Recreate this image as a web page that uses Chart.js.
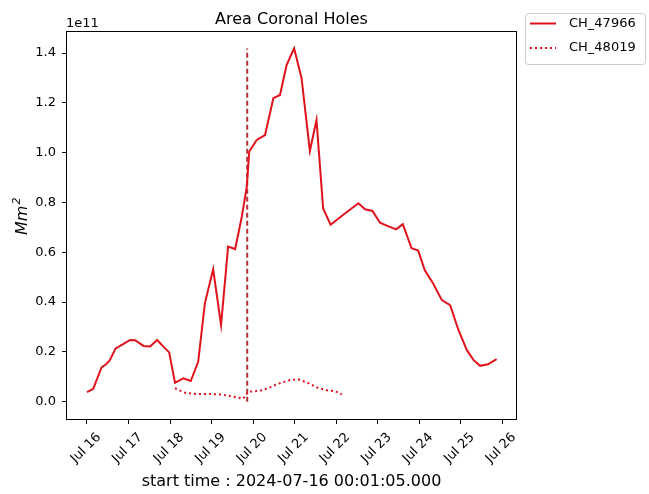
<!DOCTYPE html>
<html>
<head>
<meta charset="utf-8">
<script src="https://cdn.jsdelivr.net/npm/chart.js@4.4.1/dist/chart.umd.min.js"></script>
<style>
  html, body { margin: 0; padding: 0; background: #fff; }
</style>
</head>
<body>
<canvas id="area-chart" width="649" height="494"></canvas>
<script>
// days since 2024-07-16 00:01:05, area in units of 1e11 Mm^2
var ch47966Days = [0.00, 0.15, 0.35, 0.46, 0.55, 0.69, 0.87, 1.04, 1.16, 1.36, 1.52, 1.69, 1.84, 1.98,
    2.12, 2.32, 2.50, 2.68, 2.84, 3.04, 3.23, 3.40, 3.57, 3.73, 3.85, 3.91, 4.09, 4.29, 4.49, 4.65,
    4.81, 4.99, 5.17, 5.37, 5.53, 5.69, 5.87, 6.20, 6.54, 6.70, 6.88, 7.06, 7.25, 7.45, 7.61, 7.82,
    7.98, 8.14, 8.34, 8.55, 8.75, 8.95, 9.15, 9.31, 9.47, 9.66, 9.87];
var ch47966Area = [0.038, 0.052, 0.138, 0.150, 0.167, 0.214, 0.231, 0.248, 0.247, 0.224, 0.222, 0.248, 0.221, 0.198,
    0.076, 0.094, 0.083, 0.161, 0.395, 0.532, 0.308, 0.623, 0.613, 0.743, 0.864, 1.005, 1.051, 1.071, 1.219, 1.232,
    1.352, 1.419, 1.299, 1.007, 1.131, 0.776, 0.711, 0.754, 0.797, 0.773, 0.766, 0.719, 0.705, 0.692, 0.713, 0.616,
    0.607, 0.528, 0.475, 0.408, 0.388, 0.288, 0.208, 0.168, 0.144, 0.150, 0.171];

var ch48019Days = [2.12, 2.36, 2.64, 2.96, 3.28, 3.59, 3.76, 3.89, 4.17, 4.37, 4.57, 4.89, 5.09, 5.33, 5.57, 5.81, 5.98, 6.14];
var ch48019Area = [0.054, 0.036, 0.031, 0.031, 0.028, 0.018, 0.012, 0.040, 0.044, 0.054, 0.070, 0.087, 0.090, 0.075, 0.055, 0.045, 0.042, 0.030];

// reference time marker
var markerDay = 3.86;
var markerRange = [0, 1.419];

var seriesNames = ['CH_47966', 'CH_48019'];
var xTickDays = [0, 1, 2, 3, 4, 5, 6, 7, 8, 9, 10];
var xTickLabels = ['Jul 16', 'Jul 17', 'Jul 18', 'Jul 19', 'Jul 20', 'Jul 21', 'Jul 22', 'Jul 23', 'Jul 24', 'Jul 25', 'Jul 26'];
var yTickValues = [0.0, 0.2, 0.4, 0.6, 0.8, 1.0, 1.2, 1.4];

var RED = '#e0121c';
var FONT = "'DejaVu Sans', sans-serif";

function toPoints(xs, ys) {
    return xs.map(function (x, i) { return { x: x, y: ys[i] }; });
}

// frame, titles, rotated x labels and the outside legend
var decorPlugin = {
    id: 'decor',
    afterDraw: function (chart) {
        var ctx = chart.ctx;
        var a = chart.chartArea;
        var xs = chart.scales.x;
        ctx.save();

        ctx.strokeStyle = '#000';
        ctx.lineWidth = 1;
        ctx.strokeRect(Math.round(a.left) + 0.5, Math.round(a.top) + 0.5,
            Math.round(a.right - a.left) - 1, Math.round(a.bottom - a.top) - 1);

        ctx.fillStyle = '#000';
        ctx.textAlign = 'center';
        ctx.textBaseline = 'alphabetic';
        ctx.font = '16px ' + FONT;
        ctx.fillText('Area Coronal Holes', (a.left + a.right) / 2, 23.5);
        ctx.fillText('start time : 2024-07-16 00:01:05.000', (a.left + a.right) / 2, 486);

        ctx.textAlign = 'left';
        ctx.font = '13px ' + FONT;
        ctx.fillText('1e11', a.left, 26.5);

        // y axis label Mm^2
        ctx.save();
        ctx.translate(26.5, 235);
        ctx.rotate(-Math.PI / 2);
        ctx.font = 'italic 16px ' + FONT;
        ctx.fillText('Mm', 0, 0);
        var w = ctx.measureText('Mm').width;
        ctx.font = 'italic 11px ' + FONT;
        ctx.fillText('2', w + 1, -7);
        ctx.restore();

        // rotated date labels
        ctx.font = '13px ' + FONT;
        ctx.textAlign = 'center';
        ctx.textBaseline = 'middle';
        xTickDays.forEach(function (d, i) {
            ctx.save();
            ctx.translate(xs.getPixelForValue(d) - 1, 448);
            ctx.rotate(-Math.PI / 4);
            ctx.fillText(xTickLabels[i], 0, 0);
            ctx.restore();
        });

        // legend box
        ctx.beginPath();
        ctx.roundRect(525.5, 13.5, 120, 51, 3);
        ctx.fillStyle = 'rgba(255,255,255,0.8)';
        ctx.fill();
        ctx.strokeStyle = '#cccccc';
        ctx.stroke();

        var rows = [23.5, 48];
        var dashes = [[], [2, 3]];
        rows.forEach(function (y, i) {
            ctx.beginPath();
            ctx.setLineDash(dashes[i]);
            ctx.strokeStyle = RED;
            ctx.lineWidth = 2;
            ctx.moveTo(530, y);
            ctx.lineTo(556, y);
            ctx.stroke();
            ctx.setLineDash([]);
            ctx.fillStyle = '#000';
            ctx.textAlign = 'left';
            ctx.textBaseline = 'middle';
            ctx.font = '13px ' + FONT;
            ctx.fillText(seriesNames[i], 569, y);
        });

        ctx.restore();
    }
};

var canvasElement = document.getElementById('area-chart').getContext('2d');

var config = {
    type: 'line',
    data: {
        datasets: [{
            label: seriesNames[0],
            data: toPoints(ch47966Days, ch47966Area),
            borderColor: RED,
            borderWidth: 2,
            pointRadius: 0,
            tension: 0
        }, {
            label: seriesNames[1],
            data: toPoints(ch48019Days, ch48019Area),
            borderColor: RED,
            borderWidth: 2,
            borderDash: [2, 3],
            pointRadius: 0,
            tension: 0
        }, {
            label: 'marker',
            data: toPoints([markerDay, markerDay], markerRange),
            borderColor: '#b8323a',
            borderWidth: 2,
            borderDash: [5, 3],
            pointRadius: 0
        }]
    },
    plugins: [decorPlugin],
    options: {
        responsive: false,
        animation: false,
        devicePixelRatio: 1,
        layout: {
            padding: { top: 31, right: 132, bottom: 0, left: 0 }
        },
        plugins: {
            legend: { display: false },
            tooltip: { enabled: false }
        },
        scales: {
            x: {
                type: 'linear',
                min: -0.506,
                max: 10.361,
                afterBuildTicks: function (scale) {
                    scale.ticks = xTickDays.map(function (v) { return { value: v }; });
                },
                afterFit: function (scale) { scale.height = 74; },
                ticks: { display: false },
                grid: { drawOnChartArea: false, drawTicks: true, tickLength: 4, color: '#000' },
                border: { display: false }
            },
            y: {
                type: 'linear',
                min: -0.0735,
                max: 1.4888,
                afterBuildTicks: function (scale) {
                    scale.ticks = yTickValues.map(function (v) { return { value: v }; });
                },
                afterFit: function (scale) { scale.width = 66; },
                ticks: {
                    color: '#000',
                    padding: 6,
                    font: { family: FONT, size: 13 },
                    callback: function (v) { return v.toFixed(1); }
                },
                grid: { drawOnChartArea: false, drawTicks: true, tickLength: 4, color: '#000' },
                border: { display: false }
            }
        }
    }
};

var chart = new Chart(canvasElement, config);
</script>
</body>
</html>
